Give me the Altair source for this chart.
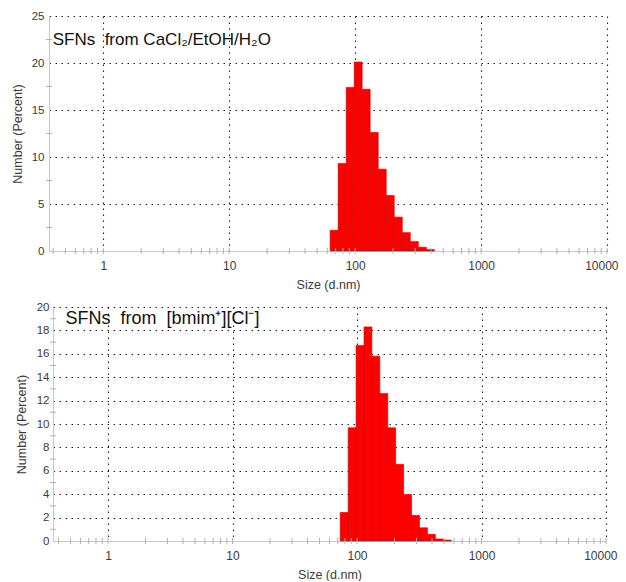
import altair as alt
import pandas as pd

# ---------------- data ----------------
x_ticks = [1, 10, 100, 1000, 10000]
x_minor = [0.4, 0.5, 0.6, 0.7, 0.8, 0.9,
           2, 3, 4, 5, 6, 7, 8, 9,
           20, 30, 40, 50, 60, 70, 80, 90,
           200, 300, 400, 500, 600, 700, 800, 900,
           2000, 3000, 4000, 5000, 6000, 7000, 8000, 9000]

top_sizes = [68.06, 78.82, 91.28, 105.7, 122.4, 141.8, 164.2, 190.1, 220.2, 255.0, 295.3, 342.0, 396.1]
top_number = [2.2, 9.3, 17.4, 20.1, 17.2, 12.6, 8.7, 5.9, 3.6, 1.95, 1.0, 0.4, 0.15]
top_y_ticks = [0, 5, 10, 15, 20, 25]
top_y_minor = [2.5, 7.5, 12.5, 17.5, 22.5]

bot_sizes = [78.82, 91.28, 105.7, 122.4, 141.8, 164.2, 190.1, 220.2, 255.0, 295.3, 342.0, 396.1, 458.7, 531.2]
bot_number = [2.44, 9.67, 16.7, 18.3, 15.8, 12.6, 9.67, 6.55, 3.97, 2.18, 1.13, 0.57, 0.17, 0.08]
bot_y_ticks = [0, 2, 4, 6, 8, 10, 12, 14, 16, 18, 20]
bot_y_minor = [1, 3, 5, 7, 9, 11, 13, 15, 17, 19]

# Zetasizer bins: 70 log-spaced classes, each bar spans size/r .. size*r
BIN_HALF_RATIO = 1.0751

top_label = "SFNs\u00a0 from CaCl\u2082/EtOH/H\u2082O"
bot_label = "SFNs\u00a0 from\u00a0 [bmim\u207a][Cl\u207b]"

FONT = "Liberation Sans, Arial, sans-serif"
TXT = "#3a3a3a"
AXIS_GRAY = "#c8c8c8"


def panel(sizes, nums, yticks, yminor, xdom, ydom, w, h, label, fs, tx, ty,
          lab_pad_y, title_pad_y):
    df = pd.DataFrame({"size": sizes, "number": nums})
    df["lo"] = df["size"] / BIN_HALF_RATIO
    df["hi"] = df["size"] * BIN_HALF_RATIO

    xs = alt.Scale(type="log", domain=xdom, nice=False)
    ys = alt.Scale(domain=ydom, nice=False, zero=True)

    xaxis = alt.Axis(values=x_ticks, format="d", title="Size (d.nm)",
                     grid=True, gridDash=[1.5, 4.5], gridColor="#222222", gridWidth=1.1,
                     ticks=False, tickSize=0, domainColor=AXIS_GRAY, domainWidth=1,
                     labelFlush=True, labelFlushOffset=11, labelOverlap=False,
                     labelFont=FONT, labelFontSize=12, labelColor=TXT, labelPadding=9,
                     titleFont=FONT, titleFontSize=12.5, titleFontWeight="normal",
                     titleColor=TXT, titlePadding=7)
    yaxis = alt.Axis(values=yticks, title="Number (Percent)",
                     grid=True, gridDash=[1.5, 4.5], gridColor="#222222", gridWidth=1.1,
                     gridOpacity={"condition": {"test": "datum.value === 0", "value": 0}, "value": 1},
                     ticks=False, tickSize=0, domainColor=AXIS_GRAY, domainWidth=1,
                     labelFlush=False, labelOverlap=False,
                     labelFont=FONT, labelFontSize=11.5, labelColor=TXT, labelPadding=lab_pad_y,
                     titleFont=FONT, titleFontSize=12.5, titleFontWeight="normal",
                     titleColor=TXT, titlePadding=title_pad_y)

    bars = alt.Chart(df).mark_rect(color="#ff0000", stroke="#b80000", strokeWidth=0.6).encode(
        x=alt.X("lo:Q", scale=xs, axis=xaxis),
        x2="hi:Q",
        y=alt.Y("number:Q", scale=ys, axis=yaxis),
        y2=alt.datum(0),
    )

    xm = alt.Chart(pd.DataFrame({"v": x_ticks + x_minor})).mark_rule(
        color="#b0b0b0", strokeWidth=1).encode(
        x=alt.X("v:Q", scale=xs, axis=xaxis),
        y=alt.value(h - 3), y2=alt.value(h + 3),
    )
    ym = alt.Chart(pd.DataFrame({"v": yminor})).mark_rule(
        color="#b0b0b0", strokeWidth=1).encode(
        y=alt.Y("v:Q", scale=ys, axis=yaxis),
        x=alt.value(-3), x2=alt.value(3),
    )
    txt = alt.Chart(pd.DataFrame({"t": [label]})).mark_text(
        align="left", baseline="alphabetic", fontSize=fs, font=FONT, color="#111111").encode(
        x=alt.value(tx), y=alt.value(ty), text="t:N")

    return alt.layer(bars, xm, ym, txt).properties(width=w, height=h)


top = panel(top_sizes, top_number, top_y_ticks, top_y_minor,
            [0.3706, 10000], [0, 25], 558, 235, top_label, 17, 3.7, 29.3, 5, 7)
bot = panel(bot_sizes, bot_number, bot_y_ticks, bot_y_minor,
            [0.3613, 10000], [0, 20], 553, 234, bot_label, 18, 12.4, 16.8, 4, 8)

spacer = alt.Chart(pd.DataFrame({"a": [0]})).mark_point(opacity=0).properties(width=4, height=10)
bottom_row = alt.hconcat(spacer, bot, spacing=0, bounds="flush")

chart = alt.vconcat(top, bottom_row, spacing=56, bounds="flush").configure_view(
    stroke=None).properties(padding={"left": 3, "top": 2, "right": 0, "bottom": 0},
                            background="white")

chart.save("out.html", embed_options={"renderer": "svg", "actions": False})
